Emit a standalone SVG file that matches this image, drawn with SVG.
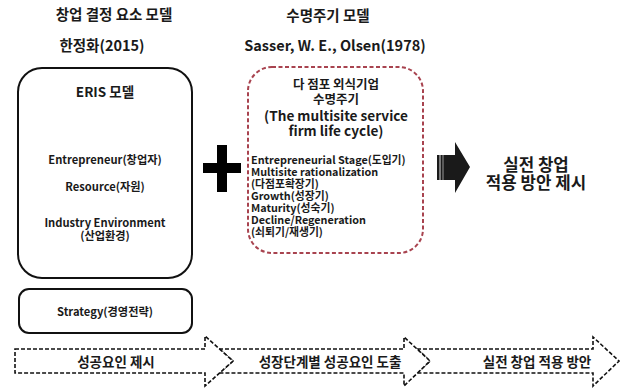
<svg xmlns="http://www.w3.org/2000/svg" width="621" height="388" viewBox="0 0 621 388">
<style>
text{font-family:"Noto Sans CJK KR","Noto Sans",sans-serif;font-weight:bold;fill:#1a1a1a}
.h{font-size:14.5px}
.t{font-size:12.5px}
.e{font-size:13.6px}
.b{font-size:13.5px}
.m{font-size:11.2px}
.l{font-size:10.8px}
.r{font-size:16.8px}
.c{text-anchor:middle}
.box{fill:#fff;stroke:#111;stroke-width:2}
.red{fill:#fff;stroke:#a8434f;stroke-width:2;stroke-dasharray:4 2.5}
.arr{fill:#fff;stroke:#111;stroke-width:1.6;stroke-dasharray:4 2}
</style>
<rect width="621" height="388" fill="#fff"/>
<g id="titles">
<text class="h c" x="114" y="20">창업 결정 요소 모델</text>
<text class="h c" x="102" y="51">한정화(2015)</text>
<text class="h c" x="328" y="21">수명주기 모델</text>
<text class="h c" x="335" y="51">Sasser, W. E., Olsen(1978)</text>
</g>
<g id="eris">
<rect class="box" x="18" y="68" width="174" height="210" rx="24"/>
<text class="c" x="105" y="97" style="font-size:13.5px">ERIS 모델</text>
<text class="m c" x="105" y="164">Entrepreneur(창업자)</text>
<text class="m c" x="105" y="191">Resource(자원)</text>
<text class="m c" x="105" y="227">Industry Environment</text>
<text class="m c" x="105" y="240">(산업환경)</text>
</g>
<g id="strategy">
<rect class="box" x="19" y="289" width="173" height="44" rx="10"/>
<text class="m c" x="105" y="316">Strategy(경영전략)</text>
</g>
<g id="plus">
<rect x="203" y="163" width="38" height="10" fill="#000"/>
<rect x="217" y="145" width="10" height="47" fill="#000"/>
</g>
<g id="lifecycle">
<rect class="red" x="248" y="67" width="175" height="186" rx="24"/>
<text class="t c" x="336" y="89">다 점포 외식기업</text>
<text class="t c" x="336" y="104">수명주기</text>
<text class="e c" x="336" y="121">(The multisite service</text>
<text class="e c" x="336" y="136">firm life cycle)</text>
<text class="l" x="251" y="164">Entrepreneurial Stage(도입기)</text>
<text class="l" x="251" y="176">Multisite rationalization</text>
<text class="l" x="251" y="188">(다점포확장기)</text>
<text class="l" x="251" y="200">Growth(성장기)</text>
<text class="l" x="251" y="212">Maturity(성숙기)</text>
<text class="l" x="251" y="224">Decline/Regeneration</text>
<text class="l" x="251" y="236">(쇠퇴기/재생기)</text>
</g>
<g id="bigarrow">
<path d="M437,155 L455,155 L455,142 L470,167 L455,193 L455,180 L437,180 Z" fill="#1a1a1a"/>
<line x1="440" y1="155" x2="440" y2="180" stroke="#ddd" stroke-width="1"/>
<line x1="443" y1="155" x2="443" y2="180" stroke="#999" stroke-width="1"/>
</g>
<g id="result">
<text class="r c" x="536" y="171">실전 창업</text>
<text class="r c" x="536" y="189">적용 방안 제시</text>
</g>
<g id="connectors">
<path class="arr" d="M417,349 L593,349 L593,337 L619,361 L593,386 L593,373 L417,373 L430,361 Z"/>
<path class="arr" d="M219,349 L404,349 L404,337 L430,361 L404,386 L404,373 L219,373 L233,361 Z"/>
<path class="arr" d="M15,349 L205,349 L205,336 L233,361 L205,386 L205,373 L15,373 Z"/>
<text class="b c" x="116" y="367">성공요인 제시</text>
<text class="b c" x="330" y="367">성장단계별 성공요인 도출</text>
<text class="b c" x="537" y="367">실전 창업 적용 방안</text>
</g>
</svg>
